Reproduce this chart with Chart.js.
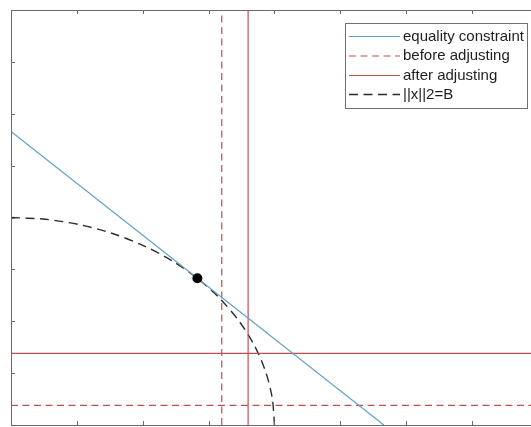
<!DOCTYPE html>
<html>
<head>
<meta charset="utf-8">
<script src="https://cdn.jsdelivr.net/npm/chart.js@4.4.1/dist/chart.umd.min.js"></script>
<style>
  html, body { margin: 0; padding: 0; background: #fff; overflow: hidden; }
  canvas { display: block; }
</style>
</head>
<body>
<canvas id="c" width="531" height="427" style="width:531px;height:427px"></canvas>
<script>
// ---- data ----
const xTicks = [0, 1, 2, 3, 4, 5, 6, 7];
const yTicks = [0, 1, 2, 3, 4, 5, 6, 7, 8];
const xMax = 7.895;
const yMax = 8;
const constraintX = [0, 5.66];
const constraintY = [5.66, 0];
const beforeX = 3.2;
const beforeY = 0.38;
const afterX = 3.6;
const afterY = 1.38;
const arcX = [0, 0.522, 1.035, 1.531, 2.0, 2.435, 2.828, 3.173, 3.464, 3.696, 3.864, 3.966, 4.0];
const arcY = [4.0, 3.966, 3.864, 3.696, 3.464, 3.173, 2.828, 2.435, 2.0, 1.531, 1.035, 0.522, 0];
const optimumX = [2.83];
const optimumY = [2.83];
const legendLabels = ['equality constraint', 'before adjusting', 'after adjusting', '||x||2=B'];

const BLUE = '#62a0c3';
const RED = '#bf4f50';
const DARK = '#2b2b2b';

const pts = (xs, ys) => xs.map((x, i) => ({ x: x, y: ys[i] }));

const datasets = [
  { label: 'optimum', data: pts(optimumX, optimumY), showLine: false,
    pointRadius: 5, pointBackgroundColor: '#000', pointBorderColor: '#000', pointBorderWidth: 0 },
  { label: legendLabels[0], legendIndex: 0, data: pts(constraintX, constraintY), showLine: true,
    borderColor: BLUE, borderWidth: 1.2, pointRadius: 0 },
  { label: legendLabels[1], legendIndex: 1, data: pts([beforeX, beforeX], [0, yMax]), showLine: true,
    borderColor: RED, borderWidth: 1.2, borderDash: [7, 4.5], pointRadius: 0 },
  { label: legendLabels[1] + ' (y)', data: pts([0, xMax], [beforeY, beforeY]), showLine: true,
    borderColor: RED, borderWidth: 1.2, borderDash: [7, 4.5], pointRadius: 0 },
  { label: legendLabels[2], legendIndex: 2, data: pts([afterX, afterX], [0, yMax]), showLine: true,
    borderColor: RED, borderWidth: 1.2, pointRadius: 0 },
  { label: legendLabels[2] + ' (y)', data: pts([0, xMax], [afterY, afterY]), showLine: true,
    borderColor: RED, borderWidth: 1.2, pointRadius: 0 },
  { label: legendLabels[3], legendIndex: 3, data: pts(arcX, arcY), showLine: true,
    borderColor: DARK, borderWidth: 1.4, borderDash: [9, 5.5], pointRadius: 0, tension: 0.3 }
];

const axesPlugin = {
  id: 'matlabAxes',
  afterDraw(chart) {
    const { ctx, chartArea: a, scales } = chart;
    ctx.save();
    ctx.strokeStyle = '#6a6a6a';
    ctx.lineWidth = 1;
    ctx.beginPath();
    ctx.moveTo(a.right + 1, a.top + 0.5);
    ctx.lineTo(a.left + 0.5, a.top + 0.5);
    ctx.lineTo(a.left + 0.5, a.bottom + 0.5);
    ctx.lineTo(a.right + 1, a.bottom + 0.5);
    ctx.stroke();
    const tl = 4;
    ctx.beginPath();
    xTicks.forEach(v => {
      const px = Math.round(scales.x.getPixelForValue(v)) + 0.5;
      ctx.moveTo(px, a.bottom); ctx.lineTo(px, a.bottom - tl);
      ctx.moveTo(px, a.top); ctx.lineTo(px, a.top + tl);
    });
    yTicks.forEach(v => {
      const py = Math.round(scales.y.getPixelForValue(v)) + 0.5;
      ctx.moveTo(a.left, py); ctx.lineTo(a.left + tl, py);
    });
    ctx.stroke();
    ctx.restore();
  }
};

const legendPlugin = {
  id: 'boxLegend',
  afterDraw(chart) {
    const ctx = chart.ctx;
    const box = { x: 345.5, y: 23.5, w: 182, h: 85 };
    ctx.save();
    ctx.fillStyle = '#fff';
    ctx.fillRect(box.x, box.y, box.w, box.h);
    ctx.strokeStyle = '#707070';
    ctx.lineWidth = 1;
    ctx.strokeRect(box.x, box.y, box.w, box.h);
    const rows = [36, 55.5, 75, 94];
    chart.data.datasets.forEach(ds => {
      if (ds.legendIndex === undefined) return;
      const y = rows[ds.legendIndex] + 0.5;
      ctx.strokeStyle = ds.borderColor;
      ctx.lineWidth = ds.borderWidth;
      ctx.setLineDash(ds.borderDash || []);
      ctx.beginPath();
      ctx.moveTo(349, y);
      ctx.lineTo(400, y);
      ctx.stroke();
      ctx.setLineDash([]);
      ctx.fillStyle = '#1e1e1e';
      ctx.font = '15px "Liberation Sans", Arial, sans-serif';
      ctx.textBaseline = 'middle';
      ctx.fillText(ds.label, 403, y);
    });
    ctx.restore();
  }
};

new Chart(document.getElementById('c'), {
  type: 'scatter',
  data: { datasets: datasets },
  options: {
    responsive: false,
    maintainAspectRatio: false,
    devicePixelRatio: 1,
    animation: false,
    layout: { autoPadding: false, padding: { left: 11, top: 10, right: 0, bottom: 2 } },
    scales: {
      x: { type: 'linear', display: false, min: 0, max: xMax },
      y: { type: 'linear', display: false, min: 0, max: yMax }
    },
    plugins: { legend: { display: false }, tooltip: { enabled: false } }
  },
  plugins: [axesPlugin, legendPlugin]
});
</script>
</body>
</html>
